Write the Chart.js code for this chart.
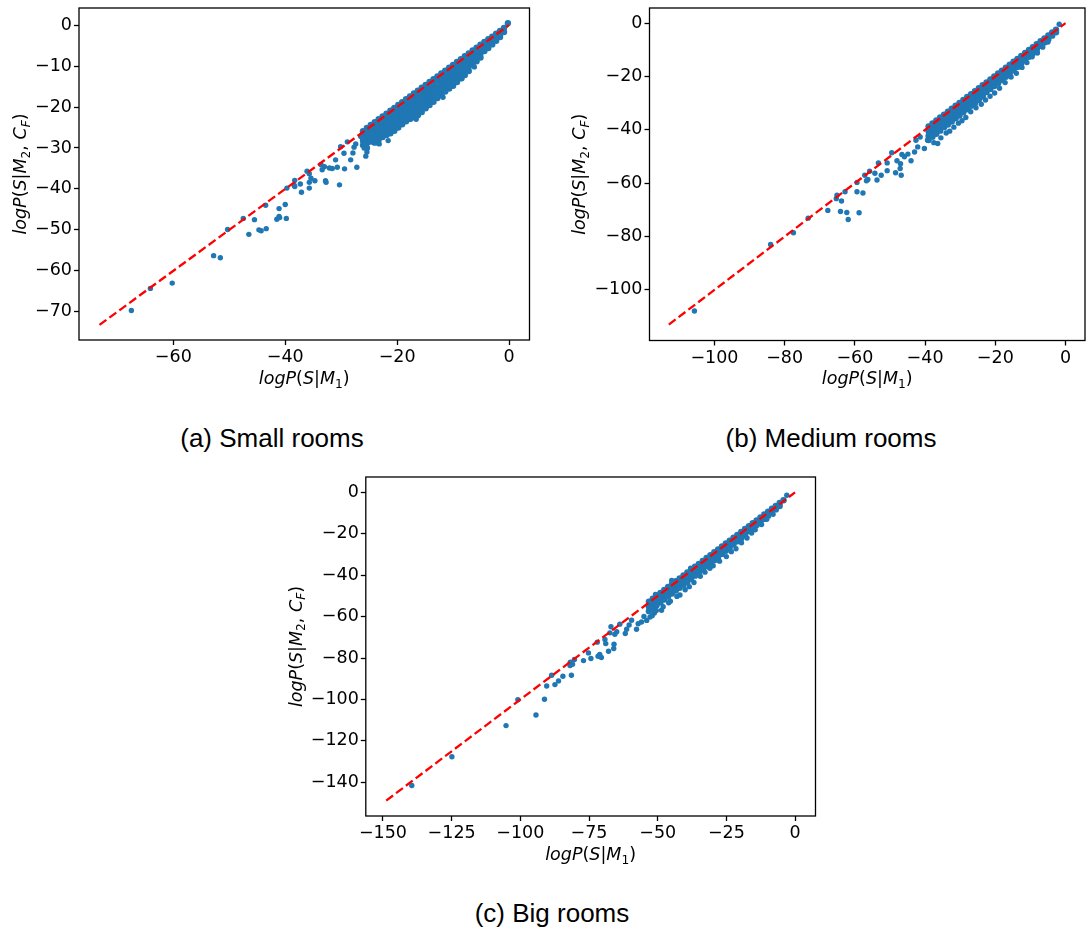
<!DOCTYPE html>
<html>
<head>
<meta charset="utf-8">
<script src="https://cdn.jsdelivr.net/npm/chart.js@4.4.1/dist/chart.umd.min.js"></script>
<style>
  html, body { margin: 0; padding: 0; background: #fff; }
  body { position: relative; width: 1089px; height: 931px; overflow: hidden; }
  canvas { position: absolute; }
  .cap { position: absolute; font-family: "Liberation Sans", Arial, sans-serif; font-size: 26px; line-height: 30px; text-align: center; color: #000; white-space: nowrap; }
</style>
</head>
<body>
<canvas id="small" width="545" height="400" style="left:0;top:0"></canvas>
<canvas id="medium" width="544" height="400" style="left:545px;top:0"></canvas>
<canvas id="big" width="560" height="420" style="left:270px;top:465px"></canvas>
<div class="cap" style="left:172px;width:200px;top:423px">(a) Small rooms</div>
<div class="cap" style="left:711px;width:240px;top:423px">(b) Medium rooms</div>
<div class="cap" style="left:452px;width:200px;top:898px">(c) Big rooms</div>
<script>
// x = logP(S|M1), y = logP(S|M2,CF)

// (a) small rooms
const smallXTicks = [-60, -40, -20, 0];
const smallYTicks = [-70, -60, -50, -40, -30, -20, -10, 0];
const smallLineX = [-73.2, 0];
const smallLineY = [-73.2, 0];
const smallOutliers = [
  [-67.5,-69.7],[-64.1,-64.3],[-60.2,-63.0],[-52.8,-56.3],[-51.6,-56.8],[-50.3,-49.9],[-47.5,-47.2],
  [-46.5,-51.1],[-45.5,-47.5],[-44.7,-50.0],[-44.3,-50.2],[-43.4,-49.7],[-43.5,-44.0],[-41.5,-47.4],
  [-41.1,-46.7],[-41.0,-47.0],[-39.8,-47.2],[-41.1,-44.8],[-40.0,-43.8],[-39.7,-39.8],[-38.4,-39.1],
  [-38.3,-39.4],[-38.3,-37.9],[-37.3,-38.8],[-37.1,-40.8],[-36.1,-35.7],[-35.7,-36.3],[-35.7,-38.4],
  [-35.7,-39.8],[-35.4,-37.4],[-34.7,-38.0],[-33.6,-34.1],[-33.4,-35.3],[-32.8,-38.0],[-32.7,-38.4],
  [-33.0,-34.6],[-32.1,-34.9],[-31.6,-35.0],[-31.0,-32.9],[-30.7,-34.7],[-30.3,-39.0],[-30.1,-29.7],
  [-29.5,-31.3],[-29.4,-35.1],[-28.9,-28.5],[-28.3,-32.9],[-27.9,-31.2],[-27.7,-29.8],[-27.2,-34.7],
  [-27.4,-29.0],[-26.5,-27.2],[-25.9,-30.0],[-25.6,-32.0],[-25.4,-31.0],[-25.3,-26.3],[-24.4,-27.9],
  [-23.2,-29.0],[-21.6,-28.2],[-16.6,-23.0],[-11.8,-17.6],[-8.4,-13.0],[-6.2,-10.2]
];
// dense band, one column per x: [x, y, y, ...]
const smallBand = [
  [-26.1,-25.9,-27.0,-28.2,-29.3],
  [-25.4,-25.1,-26.3,-27.5,-28.8,-30.0],
  [-24.7,-24.4,-25.7,-27.1,-28.4],
  [-24.0,-23.7,-25.0,-26.2,-27.5,-28.7],
  [-23.3,-23.0,-24.3,-25.5,-26.8,-28.0],
  [-22.6,-22.3,-23.6,-24.8,-26.1,-27.3],
  [-21.9,-21.6,-22.9,-24.2,-25.5,-26.8],
  [-21.2,-20.9,-22.3,-23.6,-25.0,-26.4],
  [-20.5,-20.2,-21.6,-23.0,-24.4,-25.8],
  [-19.8,-19.5,-20.9,-22.3,-23.6,-25.0],
  [-19.1,-18.8,-20.2,-21.5,-22.9,-24.2],
  [-18.4,-18.1,-19.5,-20.8,-22.2,-23.5],
  [-17.7,-17.4,-18.8,-20.2,-21.5,-22.9],
  [-17.0,-16.7,-17.9,-19.0,-20.2,-21.3,-22.5],
  [-16.3,-16.0,-17.2,-18.4,-19.6,-20.8,-22.0],
  [-15.6,-15.3,-16.5,-17.7,-18.8,-20.0,-21.2],
  [-14.9,-14.6,-15.7,-16.9,-18.0,-19.2,-20.3],
  [-14.2,-13.9,-15.0,-16.1,-17.3,-18.4,-19.5],
  [-13.5,-13.2,-14.6,-16.0,-17.3,-18.7],
  [-12.8,-12.5,-13.8,-15.2,-16.5,-17.8],
  [-12.1,-11.8,-13.1,-14.4,-15.7,-17.0],
  [-11.4,-11.1,-12.4,-13.7,-14.9,-16.2],
  [-10.7,-10.4,-11.7,-13.0,-14.2,-15.5],
  [-10.0,-9.7,-11.0,-12.3,-13.5,-14.8],
  [-9.3,-9.0,-10.2,-11.5,-12.7,-13.9],
  [-8.6,-8.3,-9.5,-10.7,-11.8,-13.0],
  [-7.9,-7.6,-8.8,-9.9,-11.1,-12.2],
  [-7.2,-6.9,-8.0,-9.0,-10.1,-11.2],
  [-6.5,-6.2,-7.3,-8.5,-9.6],
  [-5.8,-5.5,-6.6,-7.7,-8.8],
  [-5.1,-4.8,-5.8,-6.9,-7.9],
  [-4.4,-4.1,-5.2,-6.3],
  [-3.7,-3.4,-4.5,-5.6],
  [-3.0,-2.8,-3.8,-4.7],
  [-2.3,-2.1,-3.0,-3.8],
  [-1.6,-1.4,-2.2,-2.9],
  [-0.9,-0.7,-1.7],
  [-0.2,0.5]
];

// (b) medium rooms
const mediumXTicks = [-100, -80, -60, -40, -20, 0];
const mediumYTicks = [-100, -80, -60, -40, -20, 0];
const mediumLineX = [-113.0, 0];
const mediumLineY = [-113.0, 0];
const mediumOutliers = [
  [-105.7,-107.9],[-84.0,-83.0],[-77.5,-78.6],[-73.3,-73.1],[-67.7,-70.2],[-65.3,-65.8],[-65.1,-64.5],
  [-64.1,-70.6],[-63.8,-66.7],[-62.3,-71.0],[-61.9,-73.6],[-62.8,-63.2],[-58.8,-71.1],[-59.4,-59.7],
  [-59.4,-63.2],[-57.7,-63.7],[-56.7,-59.1],[-56.3,-58.6],[-57.2,-57.0],[-55.8,-55.5],[-53.7,-58.8],
  [-54.3,-56.3],[-53.3,-52.4],[-52.5,-57.0],[-50.8,-55.3],[-50.8,-52.4],[-49.5,-48.6],[-48.4,-56.1],
  [-48.0,-51.6],[-47.1,-54.5],[-47.0,-52.7],[-46.8,-57.0],[-46.6,-49.2],[-45.9,-50.1],[-44.9,-49.1],
  [-44.0,-51.6],[-43.0,-48.3],[-42.1,-46.4],[-42.6,-43.9],[-41.4,-42.7],[-40.2,-47.0],[-39.3,-43.9],
  [-38.9,-41.4],[-36.4,-45.1],[-37.3,-40.1],
  [-37.5,-44.8],[-35.5,-43.0],[-34.0,-41.2],[-33.0,-40.5],[-31.8,-39.0],[-30.5,-37.5],[-29.5,-36.6],
  [-28.4,-35.4],[-27.0,-33.2],[-25.5,-31.7],[-24.0,-30.4],[-22.8,-28.8],[-21.5,-27.4],[-20.2,-26.2],
  [-18.8,-24.4],[-17.2,-22.3],[-15.5,-20.2],[-14.0,-18.8],[-12.4,-16.6],[-11.0,-14.8],[-9.5,-12.6],
  [-8.0,-11.2],[-6.5,-9.0],[-5.0,-7.1],[-1.8,-0.4]
];
const mediumBand = [
  [-39.0,-38.7,-40.5,-42.3,-43.8],
  [-37.9,-37.6,-39.4,-41.2,-42.6],
  [-36.8,-36.5,-38.3,-40.1,-41.5],
  [-35.7,-35.4,-37.2,-39.0,-40.3],
  [-34.6,-34.3,-36.1,-37.9,-39.0],
  [-33.5,-33.2,-35.0,-36.8,-38.0],
  [-32.4,-32.1,-33.9,-35.7,-36.9],
  [-31.3,-31.0,-32.8,-34.6,-35.7],
  [-30.2,-29.9,-31.7,-33.5,-34.6],
  [-29.1,-28.8,-30.6,-32.4,-33.4],
  [-28.0,-27.7,-29.5,-31.3,-32.3],
  [-26.9,-26.6,-28.4,-30.2,-31.0],
  [-25.8,-25.5,-27.3,-29.1,-29.9],
  [-24.7,-24.4,-26.2,-28.0,-28.8],
  [-23.6,-23.3,-25.1,-26.9,-27.5],
  [-22.5,-22.2,-24.0,-25.8],
  [-21.4,-21.1,-22.9,-24.7],
  [-20.3,-20.0,-21.8,-23.6],
  [-19.2,-18.9,-20.7,-22.5],
  [-18.1,-17.8,-19.6,-21.3],
  [-17.0,-16.7,-18.5,-20.1],
  [-15.9,-15.6,-17.4,-18.9],
  [-14.8,-14.5,-16.3,-17.7],
  [-13.7,-13.4,-15.2,-16.4],
  [-12.6,-12.3,-14.1,-15.1],
  [-11.5,-11.2,-13.0,-13.9],
  [-10.4,-10.1,-11.9,-12.6],
  [-9.3,-9.0,-10.8,-11.3],
  [-8.2,-7.9,-9.6,-10.0],
  [-7.1,-6.8,-8.5],
  [-6.0,-5.7,-7.3],
  [-4.9,-4.6,-6.0],
  [-3.8,-3.5,-4.7],
  [-2.7,-2.5,-3.4]
];

// (c) big rooms
const bigXTicks = [-150, -125, -100, -75, -50, -25, 0];
const bigYTicks = [-140, -120, -100, -80, -60, -40, -20, 0];
const bigLineX = [-148.8, 0];
const bigLineY = [-148.8, 0];
const bigOutliers = [
  [-139.5,-141.5],[-124.9,-127.6],[-105.2,-112.6],[-100.9,-100.1],[-94.3,-107.5],[-91.2,-99.9],
  [-90.4,-93.5],[-88.6,-88.3],[-87.4,-92.8],[-86.1,-91.0],[-84.5,-88.8],[-81.4,-88.3],[-81.9,-83.6],
  [-81.8,-82.0],[-81.0,-83.0],[-80.3,-80.7],[-77.0,-81.2],[-75.2,-77.5],[-74.3,-80.2],[-71.7,-79.1],
  [-71.1,-78.2],[-70.5,-79.7],[-72.0,-72.3],[-69.2,-71.0],[-68.9,-73.0],[-67.9,-76.7],[-67.4,-67.8],
  [-67.0,-64.9],[-66.0,-75.4],[-65.9,-73.3],[-65.6,-68.5],[-64.9,-67.3],[-63.8,-63.6],[-61.8,-68.1],
  [-61.3,-66.1],[-60.4,-64.0],[-59.5,-61.7],[-57.7,-66.1],[-57.1,-63.4],[-55.9,-62.6],[-55.0,-59.9],
  [-54.0,-61.8],[-52.8,-60.2],[-51.2,-58.2],[-48.6,-56.9],
  [-52.0,-59.5],[-50.5,-57.0],[-48.0,-55.2],[-46.0,-53.3],[-45.4,-52.5],[-43.0,-50.2],[-41.9,-49.5],
  [-40.0,-47.0],[-38.5,-45.5],[-36.8,-43.5],[-34.5,-40.5],[-32.8,-38.5],[-31.0,-36.6],[-29.8,-35.4],
  [-27.5,-33.2],[-25.0,-31.0],[-23.2,-28.6],[-21.5,-27.2],[-19.5,-24.3],[-17.5,-22.0],[-15.8,-19.6],
  [-14.5,-18.0],[-12.2,-15.5],[-10.3,-13.0],[-8.0,-10.6],
  [-44.9,-42.5],[-50.8,-49.3],[-38.0,-36.6],[-3.0,-1.4]
];
const bigBand = [
  [-53.2,-52.8,-55.1,-57.4],
  [-51.8,-51.3,-53.6,-55.9],
  [-50.4,-49.9,-52.2,-54.5],
  [-49.0,-48.5,-50.8,-53.1],
  [-47.6,-47.1,-49.4,-51.7],
  [-46.2,-45.7,-48.0,-50.3],
  [-44.8,-44.3,-46.6,-48.8],
  [-43.4,-42.9,-45.2,-47.4],
  [-42.0,-41.5,-43.8,-46.0],
  [-40.6,-40.1,-42.4,-44.6],
  [-39.2,-38.7,-41.0,-43.2],
  [-37.8,-37.3,-39.6,-41.7],
  [-36.4,-35.9,-38.2,-40.2],
  [-35.0,-34.5,-36.8,-38.7],
  [-33.6,-33.1,-35.4,-37.2],
  [-32.2,-31.7,-34.0,-35.7],
  [-30.8,-30.3,-32.6,-34.2],
  [-29.4,-28.9,-31.2,-32.8],
  [-28.0,-27.5,-29.8,-31.2],
  [-26.6,-26.1,-28.4,-29.7],
  [-25.2,-24.7,-27.0,-28.2],
  [-23.8,-23.3,-25.6,-26.6],
  [-22.4,-21.9,-24.2,-25.1],
  [-21.0,-20.5,-22.8,-23.6],
  [-19.6,-19.1,-21.4,-22.1],
  [-18.2,-17.7,-20.0,-20.6],
  [-16.8,-16.3,-18.6],
  [-15.4,-14.9,-17.2],
  [-14.0,-13.5,-15.7],
  [-12.6,-12.1,-14.3],
  [-11.2,-10.7,-12.8],
  [-9.8,-9.3,-11.3],
  [-8.4,-7.9,-9.7],
  [-7.0,-6.5,-8.2],
  [-5.6,-5.1,-6.6],
  [-4.2,-3.8]
];

const xTitle = [['logP','i'],['(','r'],['S','i'],['|','r'],['M','i'],['1','sr'],[')','r']];
const yTitle = [['logP','i'],['(','r'],['S','i'],['|','r'],['M','i'],['2','sr'],[', ','r'],['C','i'],['F','si'],[')','r']];

const BLUE = '#1f77b4';
const FS = 17.5;

function pairsToPoints(pairs) { return pairs.map(p => ({ x: p[0], y: p[1] })); }
function columnsToPoints(cols) {
  const out = [];
  cols.forEach(c => { for (let i = 1; i < c.length; i++) out.push({ x: c[0], y: c[i] }); });
  return out;
}
function fmt(v) { return String(v).replace('-', '\u2212'); }

function partFont(s) {
  const size = s[0] === 's' ? FS * 0.7 : FS;
  return (s.endsWith('i') ? 'italic ' : '') + size + 'px "DejaVu Sans"';
}
function drawMath(ctx, parts, x, y, vertical) {
  ctx.save();
  ctx.translate(x, y);
  if (vertical) ctx.rotate(-Math.PI / 2);
  ctx.fillStyle = '#000';
  ctx.textAlign = 'left';
  ctx.textBaseline = 'alphabetic';
  let w = 0;
  parts.forEach(([t, s]) => { ctx.font = partFont(s); w += ctx.measureText(t).width; });
  let cx = -w / 2;
  parts.forEach(([t, s]) => {
    ctx.font = partFont(s);
    ctx.fillText(t, cx, s[0] === 's' ? FS * 0.2 : 0);
    cx += ctx.measureText(t).width;
  });
  ctx.restore();
}

function axis(ticks, min, max, size, isX) {
  return {
    type: 'linear', position: isX ? 'bottom' : 'left', min: min, max: max,
    afterBuildTicks: s => { s.ticks = ticks.map(v => ({ value: v })); },
    afterFit: s => {
      if (isX) s.height = size; else s.width = size;
      s.paddingTop = 0; s.paddingBottom = 0; s.paddingLeft = 0; s.paddingRight = 0;
    },
    grid: { drawOnChartArea: false, drawTicks: true, tickLength: 5, tickWidth: 1.3, tickColor: '#000', color: '#000' },
    border: { display: false },
    ticks: { color: '#000', padding: 2, maxRotation: 0, autoSkip: false,
             font: { family: '"DejaVu Sans"', size: FS }, callback: v => fmt(v) }
  };
}

function makePanel(id, p) {
  const line = p.lineX.map((x, i) => ({ x: x, y: p.lineY[i] }));
  new Chart(document.getElementById(id), {
    type: 'scatter',
    data: {
      datasets: [
        { data: line, showLine: true, borderColor: '#ff0000', borderWidth: 2.3, borderDash: [8.5, 3.8],
          pointRadius: 0, order: 0 },
        { data: pairsToPoints(p.outliers), backgroundColor: BLUE, borderWidth: 0, pointRadius: 2.7, order: 1 },
        { data: columnsToPoints(p.band), backgroundColor: BLUE, borderWidth: 0, pointRadius: 3.2, order: 2 }
      ]
    },
    options: {
      responsive: false, animation: false, events: [],
      layout: { padding: { top: p.top, right: p.right, left: 0, bottom: 0 } },
      plugins: { legend: { display: false }, tooltip: { enabled: false } },
      scales: {
        x: axis(p.xTicks, p.xMin, p.xMax, p.xHeight, true),
        y: axis(p.yTicks, p.yMin, p.yMax, p.yWidth, false)
      }
    },
    plugins: [{
      id: 'frame',
      afterDraw(chart) {
        const ctx = chart.ctx, a = chart.chartArea;
        ctx.save();
        ctx.strokeStyle = '#000';
        ctx.lineWidth = 1.3;
        ctx.strokeRect(a.left, a.top, a.right - a.left, a.bottom - a.top);
        ctx.restore();
        drawMath(ctx, xTitle, (a.left + a.right) / 2, p.xTitleY, false);
        drawMath(ctx, yTitle, p.yTitleX, (a.top + a.bottom) / 2, true);
      }
    }]
  });
}

makePanel('small', {
  outliers: smallOutliers, band: smallBand, lineX: smallLineX, lineY: smallLineY,
  xTicks: smallXTicks, yTicks: smallYTicks,
  xMin: -76.86, xMax: 3.66, yMin: -76.9, yMax: 4.19,
  top: 8, right: 15.5, yWidth: 79, xHeight: 60, xTitleY: 384, yTitleX: 26
});
makePanel('medium', {
  outliers: mediumOutliers, band: mediumBand, lineX: mediumLineX, lineY: mediumLineY,
  xTicks: mediumXTicks, yTicks: mediumYTicks,
  xMin: -118.5, xMax: 5.55, yMin: -118.97, yMax: 5.67,
  top: 8, right: 1.5, yWidth: 104.5, xHeight: 59.5, xTitleY: 384, yTitleX: 40
});
makePanel('big', {
  outliers: bigOutliers, band: bigBand, lineX: bigLineX, lineY: bigLineY,
  xTicks: bigXTicks, yTicks: bigYTicks,
  xMin: -156.24, xMax: 7.44, yMin: -156.24, yMax: 7.44,
  top: 12, right: 14.5, yWidth: 95.8, xHeight: 69, xTitleY: 395, yTitleX: 31.5
});
</script>
</body>
</html>
